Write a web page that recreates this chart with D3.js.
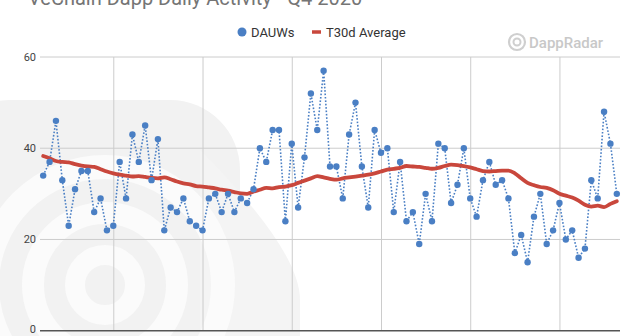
<!DOCTYPE html>
<html>
<head>
<meta charset="utf-8">
<script src="https://cdnjs.cloudflare.com/ajax/libs/d3/7.8.5/d3.min.js"></script>
<style>
  html, body { margin: 0; padding: 0; background: #fff; }
  svg { display: block; font-family: Roboto, "Noto Sans", Arial, sans-serif; }
</style>
</head>
<body>
<svg id="chart" width="640" height="336"></svg>
<script>
// ---- data ----
const title = "VeChain Dapp Daily Activity - Q4 2020";
const seriesNames = ["DAUWs", "T30d Average"];
const startDate = "2020-10-01";
const dauws = [34, 37, 46, 33, 23, 31, 35, 35, 26, 29, 22, 23, 37, 29, 43, 37, 45, 33, 42,
  22, 27, 26, 29, 24, 23, 22, 29, 30, 26, 30, 26, 29, 28, 31, 40, 37, 44,
  44, 24, 41, 27, 38, 52, 44, 57, 36, 36, 29, 43, 50, 36, 27, 44, 39, 40,
  26, 37, 24, 26, 19, 30, 24, 41, 40, 28, 32, 40, 29, 25, 33, 37, 32, 33, 29,
  17, 21, 15, 25, 30, 19, 22, 28, 20, 22, 16, 18, 33, 29, 48, 41, 30];
const avg30 = [38.3, 37.8, 37.2, 37.0, 36.9, 36.5, 36.2, 36.0, 35.9, 35.4, 34.9, 34.5, 34.2, 34.0, 33.8,
  33.9, 33.7, 33.5, 33.4, 33.6, 33.2, 32.7, 32.3, 32.1, 31.7, 31.6, 31.4, 31.2, 30.9, 30.7,
  30.4, 30.1, 30.0, 30.5, 30.9, 31.3, 31.2, 31.5, 31.6, 31.9, 32.4, 32.9, 33.4, 33.9, 33.6,
  33.3, 33.1, 33.4, 33.6, 33.8, 34.0, 34.2, 34.5, 34.9, 35.3, 35.5, 35.7, 36.1, 36.0, 35.9,
  35.7, 35.5, 35.7, 36.1, 36.4, 36.3, 36.1, 35.8, 35.4, 35.0, 34.9, 35.0, 35.1, 35.1, 34.5,
  33.4, 32.4, 31.9, 31.5, 31.3, 30.8, 30.0, 29.6, 29.2, 28.5, 27.6, 27.2, 27.4, 27.1, 27.8, 28.4];
const yTicks = [0, 20, 40, 60];
const xTickDates = ["2020-10-12", "2020-10-26", "2020-11-09", "2020-11-23", "2020-12-07", "2020-12-21"];

// ---- layout ----
const svg = d3.select("#chart");
const W = 640, H = 336;
const m = { left: 40, right: 20, top: 57, bottom: 5 };

const parse = d3.timeParse("%Y-%m-%d");
const d0 = parse(startDate);
const dates = dauws.map((_, i) => d3.timeDay.offset(d0, i));
const halfDay = 12 * 3600 * 1000;

const x = d3.scaleTime()
  .domain([new Date(+dates[0] - halfDay), new Date(+dates[dates.length - 1] + halfDay)])
  .range([m.left, W - m.right]);
const y = d3.scaleLinear().domain([0, 60]).range([330.7, 57]);

// ---- watermark (DappRadar logo, faint) ----
const wm = svg.append("g");
wm.append("rect").attr("x", -60).attr("y", 100).attr("width", 300).attr("height", 330)
  .attr("rx", 70).attr("fill", "#f2f2f2");
wm.append("path")
  .attr("d", "M200,150 Q300,250 300,300 L300,340 L200,340 Z")
  .attr("fill", "#f4f4f4");
const cx = 105, cy = 285;
[[118, 24], [72, 22], [30, 20]].forEach(([r, w]) => {
  wm.append("circle").attr("cx", cx).attr("cy", cy).attr("r", r)
    .attr("fill", "none").attr("stroke", "#fbfbfb").attr("stroke-width", w);
});

// ---- title (cut off at top) ----
svg.append("text").attr("x", 28).attr("y", 5).attr("font-size", 20)
  .attr("fill", "#757575").text(title);

// ---- DappRadar brand watermark ----
const br = svg.append("g").attr("transform", "translate(517,42)");
br.append("circle").attr("r", 8).attr("fill", "none").attr("stroke", "#cfcfcf").attr("stroke-width", 2.2);
br.append("circle").attr("r", 3.5).attr("fill", "none").attr("stroke", "#cfcfcf").attr("stroke-width", 2);
br.append("text").attr("x", 12).attr("y", 5.5).attr("font-size", 15).attr("fill", "#c8c8c8")
  .attr("font-weight", 500).text("DappRadar");

// ---- gridlines ----
const grid = svg.append("g");
grid.selectAll("line.h").data(yTicks.filter(t => t > 0)).join("line")
  .attr("x1", m.left).attr("x2", W - m.right)
  .attr("y1", d => y(d)).attr("y2", d => y(d))
  .attr("stroke", "#cccccc").attr("stroke-width", 1);

const xAxis = d3.axisBottom(x).tickValues(xTickDates.map(parse))
  .tickSize(-(y(0) - y(60))).tickFormat("");
const gx = svg.append("g").attr("transform", `translate(0,${y(0)})`).call(xAxis);
gx.select(".domain").remove();
gx.selectAll(".tick line").attr("stroke", "#cccccc");

// y labels
svg.append("g").selectAll("text").data(yTicks).join("text")
  .attr("x", 36).attr("y", d => d === 0 ? y(d) + 2.5 : y(d) + 4).attr("text-anchor", "end")
  .attr("font-size", 11).attr("fill", "#444").text(d => d);

// baseline
svg.append("line").attr("x1", m.left).attr("x2", W - m.right)
  .attr("y1", y(0)).attr("y2", y(0)).attr("stroke", "#555").attr("stroke-width", 1.5);

// ---- series ----
const blue = "#4a7fc4", red = "#c9473c";
const line = d3.line().x((d, i) => x(dates[i])).y(d => y(d));

svg.append("path").datum(dauws).attr("d", line)
  .attr("fill", "none").attr("stroke", blue).attr("stroke-width", 1.6)
  .attr("stroke-dasharray", "1.6,1.8");

svg.append("path").datum(avg30).attr("d", line.curve(d3.curveMonotoneX))
  .attr("fill", "none").attr("stroke", red).attr("stroke-width", 3.8)
  .attr("stroke-linejoin", "round").attr("stroke-linecap", "round");

svg.append("g").selectAll("circle").data(dauws).join("circle")
  .attr("cx", (d, i) => x(dates[i])).attr("cy", d => y(d)).attr("r", 3.2)
  .attr("fill", blue);

// ---- legend ----
const lg = svg.append("g").attr("transform", "translate(0,32)");
lg.append("circle").attr("cx", 242).attr("cy", 0).attr("r", 4.5).attr("fill", blue);
lg.append("text").attr("x", 251).attr("y", 4.5).attr("font-size", 13).attr("fill", "#333").text(seriesNames[0]);
lg.append("line").attr("x1", 312).attr("x2", 321).attr("y1", 0).attr("y2", 0)
  .attr("stroke", red).attr("stroke-width", 3.5);
lg.append("text").attr("x", 326).attr("y", 4.5).attr("font-size", 13).attr("fill", "#333").text(seriesNames[1]);
</script>
</body>
</html>
